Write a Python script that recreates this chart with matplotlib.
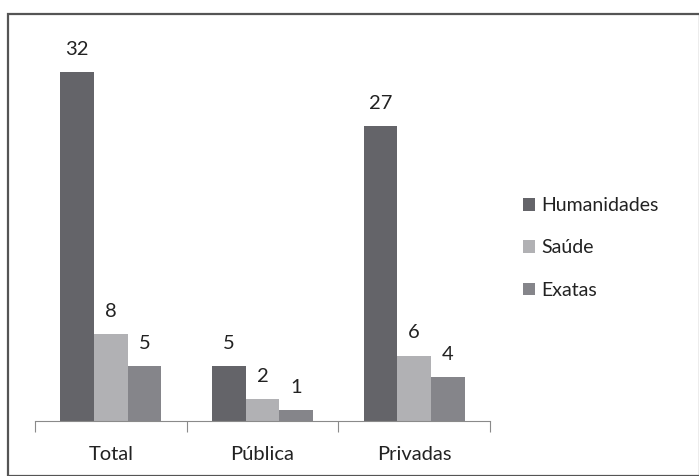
import matplotlib.pyplot as plt
import numpy as np
from matplotlib.patches import Rectangle

categories = ["Total", "Pública", "Privadas"]
series = ["Humanidades", "Saúde", "Exatas"]
humanidades = [32, 5, 27]
saude = [8, 2, 6]
exatas = [5, 1, 4]
colors = ["#646469", "#b1b1b4", "#85858a"]

plt.rcParams['font.family'] = ['Lato', 'DejaVu Sans']

fig = plt.figure(figsize=(6.99, 4.76), dpi=100)
fig.patches.append(Rectangle((0.011, 0.0), 0.99, 0.971, transform=fig.transFigure,
                             fill=False, edgecolor="#555555", linewidth=1.6))

ax = fig.add_axes([0.050, 0.1155, 0.651, 0.8025])
x = np.arange(len(categories))
w = 0.222
for i, (name, vals) in enumerate(zip(series, [humanidades, saude, exatas])):
    pos = x + (i - 1) * w
    ax.bar(pos, vals, width=w, color=colors[i], label=name)
    for p, v in zip(pos, vals):
        ax.text(p, v + 1.3, str(v), ha="center", va="bottom", fontsize=14.5, color="#222222")

ax.set_xlim(-0.5, 2.5)
ax.set_ylim(0, 35)
for s in ["top", "right", "left"]:
    ax.spines[s].set_visible(False)
ax.spines["bottom"].set_color("#8a8a8a")
ax.set_yticks([])
ax.set_xticks([-0.5, 0.5, 1.5, 2.5])
ax.set_xticklabels([])
ax.tick_params(axis="x", length=8, color="#8a8a8a")
ax.set_xticks(x, minor=True)
ax.set_xticklabels(categories, minor=True, fontsize=14.5, color="#222222")
ax.tick_params(axis="x", which="minor", length=0, pad=18)

ax.legend(loc="center left", bbox_to_anchor=(1.035, 0.453), frameon=False, fontsize=14,
          handlelength=0.6, handleheight=0.6, handletextpad=0.3, labelspacing=1.3,
          labelcolor="#222222")

fig.savefig("out.png", dpi=100)
